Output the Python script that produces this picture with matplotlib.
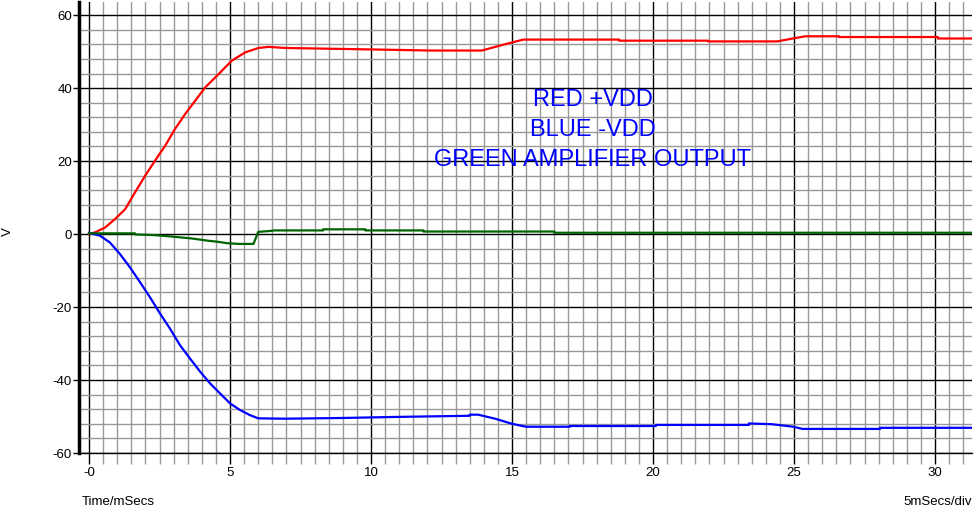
import numpy as np
import matplotlib
matplotlib.use("Agg")
import matplotlib.pyplot as plt
from matplotlib.ticker import MultipleLocator, FuncFormatter

plt.rcParams["font.family"] = ["Liberation Sans", "DejaVu Sans"]
plt.rcParams["axes.unicode_minus"] = False

###############################################################################
# Data (time in ms, voltage in V).
###############################################################################

t_red = [0.0, 0.21, 0.57, 0.92, 1.28, 1.63, 1.99, 2.34, 2.70, 3.05, 3.41, 3.76,
         4.12, 4.59, 5.06, 5.54, 6.01, 6.37, 6.96, 8.5, 10.0, 12.1, 13.93, 14.5,
         14.99, 15.4, 18.8, 18.8, 21.95, 21.95, 24.4, 25.1, 25.4, 26.6, 26.6,
         30.1, 30.1, 31.4]
v_red = [0.0, 0.45, 1.8, 4.1, 6.8, 11.4, 16.0, 20.1, 24.2, 28.8, 32.9, 36.5,
         40.2, 43.8, 47.5, 49.8, 51.0, 51.3, 51.0, 50.8, 50.6, 50.3, 50.3, 51.5,
         52.5, 53.3, 53.3, 53.0, 53.0, 52.8, 52.8, 53.8, 54.2, 54.2, 54.0,
         54.0, 53.6, 53.6]

t_blue = [0.0, 0.39, 0.74, 1.10, 1.45, 1.81, 2.16, 2.52, 2.87, 3.23, 3.58, 3.94,
          4.29, 4.65, 5.00, 5.35, 5.70, 6.00, 6.95, 9.0, 11.0, 13.5, 13.5, 13.8,
          14.4, 15.0, 15.5, 17.05, 17.05, 20.1, 20.1, 23.4, 23.4, 24.2, 24.97,
          25.3, 28.05, 28.05, 31.4]
v_blue = [0.3, -0.45, -2.3, -5.5, -9.1, -13.2, -17.3, -21.8, -25.9, -30.5, -34.1,
          -37.7, -40.9, -43.7, -46.4, -48.2, -49.6, -50.5, -50.6, -50.4, -50.1,
          -49.8, -49.5, -49.5, -50.6, -52.0, -52.8, -52.8, -52.6, -52.6, -52.3,
          -52.3, -51.9, -52.1, -52.8, -53.4, -53.4, -53.1, -53.1]

t_green = [0.0, 1.63, 1.63, 2.34, 2.82, 3.64, 4.2, 4.55, 4.9, 5.3, 5.83, 5.9,
           6.0, 6.5, 6.54, 8.3, 8.3, 9.8, 9.8, 11.86, 11.86, 16.5, 16.5, 31.4]
v_green = [0.2, 0.2, -0.1, -0.3, -0.6, -1.2, -1.8, -2.1, -2.5, -2.7, -2.7, -1.4,
           0.6, 0.9, 1.0, 1.0, 1.3, 1.3, 1.0, 1.0, 0.7, 0.7, 0.36, 0.36]

###############################################################################
# Plot.
###############################################################################

fig = plt.figure(figsize=(9.75, 5.09), dpi=100)
ax = fig.add_axes([79/975, 56/509, 893/975, 451/509])

ax.set_xlim(-0.355, 31.31)
ax.set_ylim(-60, 63.6)

ax.xaxis.set_major_locator(MultipleLocator(5))
ax.xaxis.set_minor_locator(MultipleLocator(0.5))
ax.yaxis.set_major_locator(MultipleLocator(20))
ax.yaxis.set_minor_locator(MultipleLocator(4))
ax.xaxis.set_major_formatter(FuncFormatter(lambda v, p: "-0" if v == 0 else "%d" % v))

ax.grid(which="minor", color="#999999", linewidth=1.0)
ax.grid(which="major", color="black", linewidth=1.0)
ax.set_axisbelow(True)

for s in ["top", "right"]:
    ax.spines[s].set_visible(False)
ax.spines["left"].set_linewidth(2.5)
ax.spines["bottom"].set_linewidth(1.0)

ax.tick_params(axis="x", which="major", direction="out", length=8, width=1,
               color="black", labelsize=9.5, pad=2)
ax.tick_params(axis="x", which="minor", direction="out", length=8, width=1,
               color="#999999")
ax.tick_params(axis="y", which="major", direction="out", length=4, width=1,
               color="black", labelsize=9.5, pad=1)
ax.tick_params(axis="y", which="minor", length=0)

ax.plot(t_red, v_red, color="#ff0000", lw=1.6, zorder=3)
ax.plot(t_blue, v_blue, color="#0000ff", lw=1.6, zorder=3)
ax.plot(t_green, v_green, color="#006400", lw=1.6, zorder=3)

ax.text(17.86, 36.8, "RED +VDD", color="#0000ff", fontsize=17, ha="center", va="center")
ax.text(17.86, 28.5, "BLUE -VDD", color="#0000ff", fontsize=17, ha="center", va="center")
ax.text(17.86, 20.3, "GREEN AMPLIFIER OUTPUT", color="#0000ff", fontsize=17,
        ha="center", va="center")

fig.text(8/975, 1 - 232/509, "V", rotation=90, fontsize=9.5, ha="center", va="center")
fig.text(82/975, 1 - 502/509, "Time/mSecs", fontsize=9.5, ha="left", va="center")
fig.text(972/975, 1 - 502/509, "5mSecs/div", fontsize=9.5, ha="right", va="center")

plt.savefig("out.png", dpi=100)
